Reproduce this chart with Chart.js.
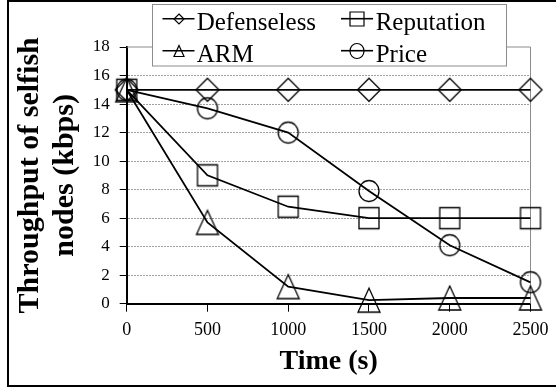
<!DOCTYPE html>
<html><head><meta charset="utf-8">
<script src="https://cdn.jsdelivr.net/npm/chart.js@4/dist/chart.umd.min.js"></script>
<style>html,body{margin:0;padding:0;background:#fff;}</style>
</head><body>
<canvas id="c" width="556" height="389"></canvas>
<script>
// ---- data ----
const timeTicks = [0, 500, 1000, 1500, 2000, 2500];
const yTicks = [0, 2, 4, 6, 8, 10, 12, 14, 16, 18];
const seriesNames = ['Defenseless', 'Reputation', 'ARM', 'Price'];
const defenseless = [15, 15, 15, 15, 15, 15];
const reputation = [15, 9.0, 6.8, 6.0, 6.0, 6.0];
const arm = [15, 5.7, 1.2, 0.25, 0.4, 0.4];
const price = [15, 13.7, 12.0, 7.9, 4.1, 1.5];
const xTitle = 'Time (s)';
const yTitle = ['Throughput of selfish', 'nodes (kbps)'];

// ---- marker images ----
function marker(type, w, h, lw) {
  const c = document.createElement('canvas');
  c.width = Math.ceil(w) + 4; c.height = Math.ceil(h) + 4;
  if (c.width % 2) c.width++; if (c.height % 2) c.height++;
  const g = c.getContext('2d');
  g.strokeStyle = '#000'; g.lineWidth = lw;
  const cx = c.width / 2, cy = c.height / 2;
  g.beginPath();
  if (type === 'diamond') {
    g.moveTo(cx, cy - h / 2); g.lineTo(cx + w / 2, cy); g.lineTo(cx, cy + h / 2); g.lineTo(cx - w / 2, cy); g.closePath();
  } else if (type === 'square') {
    g.rect(cx - w / 2, cy - h / 2, w, h);
  } else if (type === 'triangle') {
    g.moveTo(cx, cy - h / 2); g.lineTo(cx + w / 2, cy + h / 2); g.lineTo(cx - w / 2, cy + h / 2); g.closePath();
  } else {
    g.ellipse(cx, cy, w / 2, h / 2, 0, 0, Math.PI * 2);
  }
  g.stroke();
  return c;
}
const plotMarkers = [marker('diamond', 23, 23, 1.3), marker('square', 20, 21, 1.3), marker('triangle', 22, 24, 1.3), marker('circle', 20, 21, 1.3)];
const legendMarkers = [marker('diamond', 10, 10, 1.2), marker('square', 14, 14, 1.2), marker('triangle', 10, 11, 1.2), marker('circle', 14, 15, 1.2)];

const allSeries = [defenseless, reputation, arm, price];
const FONT = "'Liberation Serif', 'Times New Roman', serif";

const frame = {
  id: 'frame',
  beforeDatasetsDraw(chart) {
    const {ctx, chartArea: a} = chart;
    ctx.save();
    ctx.strokeStyle = '#8c8c8c'; ctx.lineWidth = 1;
    ctx.beginPath();
    ctx.moveTo(a.left, a.top); ctx.lineTo(a.right, a.top); ctx.lineTo(a.right, a.bottom);
    ctx.stroke();
    ctx.restore();
  },
  afterDraw(chart) {
    const {ctx} = chart;
    ctx.save();
    // legend box
    ctx.fillStyle = '#fff';
    ctx.fillRect(152.5, 4.5, 354, 61.5);
    ctx.strokeStyle = '#8c8c8c'; ctx.lineWidth = 1;
    ctx.strokeRect(152.5, 4.5, 354, 61.5);
    const slots = [
      {sx: 178.5, sy: 18.7, tx: 196.7, by: 30},
      {sx: 357, sy: 18.7, tx: 375.7, by: 30},
      {sx: 178.5, sy: 50.7, tx: 196.7, by: 62},
      {sx: 357, sy: 50.7, tx: 375.7, by: 62}
    ];
    ctx.font = '25px ' + FONT;
    ctx.fillStyle = '#000';
    ctx.textBaseline = 'alphabetic';
    ctx.textAlign = 'left';
    chart.data.datasets.forEach((ds, i) => {
      const s = slots[i];
      ctx.strokeStyle = '#000'; ctx.lineWidth = 1.6;
      ctx.beginPath(); ctx.moveTo(s.sx - 16, s.sy); ctx.lineTo(s.sx + 16, s.sy); ctx.stroke();
      const m = legendMarkers[i];
      ctx.drawImage(m, Math.round(s.sx - m.width / 2), Math.round(s.sy - m.height / 2));
      ctx.fillText(ds.label, s.tx, s.by);
    });
    // outer border
    ctx.strokeStyle = '#000'; ctx.lineWidth = 2;
    ctx.beginPath();
    ctx.moveTo(558, 1); ctx.lineTo(8, 1); ctx.lineTo(8, 386); ctx.lineTo(558, 386);
    ctx.stroke();
    ctx.restore();
  }
};

new Chart(document.getElementById('c'), {
  type: 'line',
  data: {
    datasets: seriesNames.map((name, i) => ({
      label: name,
      data: timeTicks.map((t, j) => ({x: t, y: allSeries[i][j]})),
      borderColor: '#000',
      backgroundColor: 'rgba(0,0,0,0)',
      borderWidth: 1.8,
      pointStyle: plotMarkers[i],
      pointRadius: 10,
      pointHoverRadius: 10,
      tension: 0,
      clip: false
    }))
  },
  options: {
    responsive: false,
    animation: false,
    events: [],
    layout: {padding: {left: 8, right: 20, top: 47, bottom: 3}},
    plugins: {legend: {display: false}, tooltip: {enabled: false}},
    scales: {
      x: {
        type: 'linear', min: 0, max: 2500,
        afterBuildTicks: s => { s.ticks = timeTicks.map(v => ({value: v})); },
        afterFit: s => { s.height = 82.3; },
        ticks: {font: {family: FONT, size: 18}, color: '#000', padding: 7.5, maxRotation: 0, callback: v => String(v)},
        grid: {drawOnChartArea: false, drawTicks: true, tickLength: 8, tickColor: '#000', tickWidth: 1},
        border: {color: '#000', width: 2},
        title: {display: true, text: xTitle, color: '#000', font: {family: FONT, size: 28, weight: 'bold', lineHeight: 1.25}, padding: {top: 0, bottom: 6.5}}
      },
      y: {
        min: 0, max: 18,
        afterBuildTicks: s => { s.ticks = yTicks.map(v => ({value: v})); },
        afterFit: s => { s.width = 118.7; },
        ticks: {font: {family: FONT, size: 17}, color: '#000', padding: 10, callback: v => String(v)},
        grid: {color: c => (c.tick && c.tick.value === 18) ? 'rgba(0,0,0,0)' : '#a0a0a0', lineWidth: 1, tickLength: 7, tickColor: '#000', tickWidth: 1},
        border: {color: '#000', width: 2, dash: [2, 1]},
        title: {display: true, text: yTitle, color: '#000', font: {family: FONT, size: 30, weight: 'bold', lineHeight: 1.17}, padding: {top: 5, bottom: 0}}
      }
    }
  },
  plugins: [frame]
});
</script>
</body></html>
